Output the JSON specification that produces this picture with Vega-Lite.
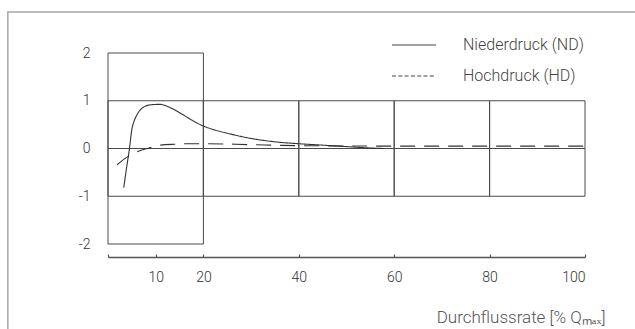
{
  "$schema": "https://vega.github.io/schema/vega-lite/v6.json",
  "width": 477,
  "height": 191,
  "autosize": "none",
  "padding": {"left": 108, "top": 53, "right": 50, "bottom": 85},
  "background": "white",
  "config": {
    "view": {"stroke": null},
    "font": "Roboto",
    "axis": {"labelFont": "Roboto", "titleFont": "Roboto", "grid": false}
  },
  "datasets": {
    "curves": [
      {"q": 3.3, "v": -0.82, "s": "Niederdruck (ND)"},
      {"q": 3.9, "v": -0.4, "s": "Niederdruck (ND)"},
      {"q": 4.5, "v": 0.0, "s": "Niederdruck (ND)"},
      {"q": 5.0, "v": 0.4, "s": "Niederdruck (ND)"},
      {"q": 5.5, "v": 0.58, "s": "Niederdruck (ND)"},
      {"q": 6.1, "v": 0.71, "s": "Niederdruck (ND)"},
      {"q": 7.5, "v": 0.87, "s": "Niederdruck (ND)"},
      {"q": 9.0, "v": 0.915, "s": "Niederdruck (ND)"},
      {"q": 10.9, "v": 0.925, "s": "Niederdruck (ND)"},
      {"q": 12.5, "v": 0.88, "s": "Niederdruck (ND)"},
      {"q": 14.5, "v": 0.78, "s": "Niederdruck (ND)"},
      {"q": 16.0, "v": 0.69, "s": "Niederdruck (ND)"},
      {"q": 18.0, "v": 0.57, "s": "Niederdruck (ND)"},
      {"q": 20.0, "v": 0.47, "s": "Niederdruck (ND)"},
      {"q": 22.0, "v": 0.4, "s": "Niederdruck (ND)"},
      {"q": 25.0, "v": 0.32, "s": "Niederdruck (ND)"},
      {"q": 30.0, "v": 0.21, "s": "Niederdruck (ND)"},
      {"q": 35.0, "v": 0.14, "s": "Niederdruck (ND)"},
      {"q": 40.0, "v": 0.1, "s": "Niederdruck (ND)"},
      {"q": 45.0, "v": 0.07, "s": "Niederdruck (ND)"},
      {"q": 50.0, "v": 0.04, "s": "Niederdruck (ND)"},
      {"q": 55.0, "v": 0.01, "s": "Niederdruck (ND)"},
      {"q": 58.0, "v": 0.0, "s": "Niederdruck (ND)"},
      {"q": 1.9, "v": -0.34, "s": "Hochdruck (HD)"},
      {"q": 4.3, "v": -0.16, "s": "Hochdruck (HD)"},
      {"q": 6.5, "v": -0.05, "s": "Hochdruck (HD)"},
      {"q": 8.9, "v": 0.02, "s": "Hochdruck (HD)"},
      {"q": 11.0, "v": 0.07, "s": "Hochdruck (HD)"},
      {"q": 14.0, "v": 0.09, "s": "Hochdruck (HD)"},
      {"q": 16.6, "v": 0.1, "s": "Hochdruck (HD)"},
      {"q": 20.8, "v": 0.1, "s": "Hochdruck (HD)"},
      {"q": 30.0, "v": 0.08, "s": "Hochdruck (HD)"},
      {"q": 40.0, "v": 0.06, "s": "Hochdruck (HD)"},
      {"q": 60.0, "v": 0.05, "s": "Hochdruck (HD)"},
      {"q": 80.0, "v": 0.05, "s": "Hochdruck (HD)"},
      {"q": 100.0, "v": 0.05, "s": "Hochdruck (HD)"}
    ],
    "cells": [
      {"x0": 0, "x1": 20, "y0": -2, "y1": 2},
      {"x0": 0, "x1": 20, "y0": -1, "y1": 0},
      {"x0": 0, "x1": 20, "y0": 0, "y1": 1},
      {"x0": 20, "x1": 40, "y0": -1, "y1": 0},
      {"x0": 20, "x1": 40, "y0": 0, "y1": 1},
      {"x0": 40, "x1": 60, "y0": -1, "y1": 0},
      {"x0": 40, "x1": 60, "y0": 0, "y1": 1},
      {"x0": 60, "x1": 80, "y0": -1, "y1": 0},
      {"x0": 60, "x1": 80, "y0": 0, "y1": 1},
      {"x0": 80, "x1": 100, "y0": -1, "y1": 0},
      {"x0": 80, "x1": 100, "y0": 0, "y1": 1}
    ]
  },
  "layer": [
    {
      "data": {"values": [{"frame": 1}]},
      "mark": {"type": "rect", "fill": null, "stroke": "#a8a8a8", "strokeWidth": 1.5, "clip": false},
      "encoding": {
        "x": {"datum": -21, "type": "quantitative", "scale": {"domain": [0, 100], "nice": false}},
        "x2": {"datum": 160},
        "y": {"datum": 2.86, "type": "quantitative", "scale": {"domain": [-2, 2], "nice": false}},
        "y2": {"datum": -6}
      }
    },
    {
      "data": {"name": "cells"},
      "mark": {"type": "rect", "fill": null, "stroke": "#4a4a4a", "strokeWidth": 1},
      "encoding": {
        "x": {"field": "x0", "type": "quantitative", "scale": {"domain": [0, 100], "nice": false},
          "axis": {
            "values": [0, 10, 20, 40, 60, 80, 100],
            "labelExpr": "datum.value == 0 ? '' : datum.label",
            "offset": 13,
            "domainColor": "#555555",
            "domainWidth": 1.5,
            "tickColor": "#555555",
            "tickWidth": 1.2,
            "tickSize": -3,
            "labelPadding": 16,
            "labelFontSize": 14,
            "labelFontWeight": 300,
            "labelColor": "#333333",
            "labelBaseline": "top",
            "title": "Durchflussrate [% Qₘₐₓ]",
            "titleFontSize": 17,
            "titleFontWeight": 300,
            "titleColor": "#555555",
            "titleAlign": "right",
            "titleAnchor": null,
            "titleX": 497,
            "titleY": 60,
            "titleBaseline": "middle"
          }},
        "x2": {"field": "x1"},
        "y": {"field": "y0", "type": "quantitative", "scale": {"domain": [-2, 2], "nice": false},
          "axis": {
            "values": [-2, -1, 0, 1, 2],
            "labelExpr": "replace(datum.label, '−', '-')",
            "domain": false,
            "ticks": false,
            "labelPadding": 18,
            "labelFontSize": 14,
            "labelFontWeight": 300,
            "labelColor": "#333333",
            "title": null
          }},
        "y2": {"field": "y1"}
      }
    },
    {
      "data": {"name": "curves"},
      "mark": {"type": "line", "color": "#333333", "strokeWidth": 1.1, "interpolate": "monotone"},
      "encoding": {
        "x": {"field": "q", "type": "quantitative"},
        "y": {"field": "v", "type": "quantitative"},
        "strokeDash": {
          "field": "s",
          "type": "nominal",
          "scale": {"domain": ["Niederdruck (ND)", "Hochdruck (HD)"], "range": [[1, 0], [15, 9]]},
          "legend": null
        }
      }
    },
    {
      "data": {"name": "curves"},
      "mark": {"type": "line", "color": "#444444", "strokeWidth": 1.2, "opacity": 0},
      "encoding": {
        "x": {"field": "q", "type": "quantitative"},
        "y": {"field": "v", "type": "quantitative"},
        "strokeDash": {
          "field": "s",
          "type": "nominal",
          "scale": {"domain": ["Niederdruck (ND)", "Hochdruck (HD)"], "range": [[1, 0], [4, 2.3]]},
          "legend": {
            "title": null,
            "orient": "none",
            "legendX": 283,
            "legendY": -31,
            "symbolType": "stroke",
            "symbolSize": 1936,
            "symbolStrokeColor": "#444444",
            "symbolStrokeWidth": 1.2,
            "symbolOpacity": 1,
            "labelOffset": 26,
            "labelFontSize": 16,
            "labelFontWeight": 300,
            "labelColor": "#444444",
            "labelFont": "Roboto",
            "rowPadding": -9,
            "padding": 0
          }
        }
      }
    }
  ],
  "resolve": {"scale": {"strokeDash": "independent"}, "legend": {"strokeDash": "independent"}}
}
